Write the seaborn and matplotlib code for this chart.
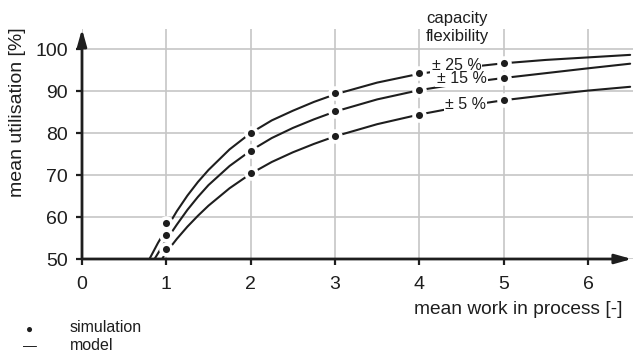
import matplotlib
matplotlib.use("Agg")
import matplotlib.pyplot as plt
import seaborn as sns
import pandas as pd
from matplotlib.patches import ArrowStyle

# ---- data ----
sim_x = [1, 2, 3, 4, 5]
sim_25 = [58.5, 80.0, 89.5, 94.2, 96.6]
sim_15 = [55.8, 75.8, 85.2, 90.2, 93.1]
sim_5 = [52.3, 70.5, 79.3, 84.4, 87.9]

model_x_25 = [0.80, 0.90, 1.0, 1.125, 1.25, 1.375, 1.5, 1.75, 2.0, 2.25, 2.5, 2.75,
              3.0, 3.5, 4.0, 4.5, 5.0, 5.5, 6.0, 6.5]
model_25 = [50.0, 53.8, 57.2, 61.4, 65.1, 68.35, 71.2, 76.1, 80.0, 83.0, 85.3, 87.4,
            89.2, 92.0, 94.1, 95.5, 96.6, 97.4, 98.0, 98.6]
model_x_15 = [0.86, 0.93, 1.0, 1.125, 1.25, 1.375, 1.5, 1.75, 2.0, 2.25, 2.5, 2.75,
              3.0, 3.5, 4.0, 4.5, 5.0, 5.5, 6.0, 6.5]
model_15 = [50.0, 52.3, 54.5, 58.2, 61.7, 64.8, 67.6, 72.15, 75.8, 78.8, 81.2, 83.25,
            85.1, 88.0, 90.2, 91.8, 93.1, 94.25, 95.4, 96.5]
model_x_5 = [0.95, 1.0, 1.125, 1.25, 1.375, 1.5, 1.75, 2.0, 2.25, 2.5, 2.75,
             3.0, 3.5, 4.0, 4.5, 5.0, 5.5, 6.0, 6.5]
model_5 = [50.0, 51.6, 54.8, 57.7, 60.3, 62.7, 66.85, 70.3, 73.1, 75.4, 77.4,
           79.2, 82.1, 84.4, 86.3, 87.8, 89.0, 90.1, 91.0]

flex_labels = ["± 25 %", "± 15 %", "± 5 %"]
x_ticks = [0, 1, 2, 3, 4, 5, 6]
y_ticks = [50, 60, 70, 80, 90, 100]

# ---- tables ----
model_df = pd.concat([
    pd.DataFrame({"x": model_x_25, "y": model_25, "flex": flex_labels[0]}),
    pd.DataFrame({"x": model_x_15, "y": model_15, "flex": flex_labels[1]}),
    pd.DataFrame({"x": model_x_5, "y": model_5, "flex": flex_labels[2]}),
])
sim_df = pd.concat([
    pd.DataFrame({"x": sim_x, "y": sim_25, "flex": flex_labels[0]}),
    pd.DataFrame({"x": sim_x, "y": sim_15, "flex": flex_labels[1]}),
    pd.DataFrame({"x": sim_x, "y": sim_5, "flex": flex_labels[2]}),
])

sns.set_theme(style="white")
plt.rcParams["font.family"] = ["Liberation Sans", "DejaVu Sans"]

ink = "#1e1e1e"
grid_c = "#c6c6c6"

fig = plt.figure(figsize=(6.33, 3.57), dpi=100)
ax = fig.add_axes([82 / 633, (357 - 259) / 357, (633 - 82) / 633, (259 - 29) / 357])

xmax = (633 - 82) / 84.33
ymax = 50 + (259 - 29) / 4.2
ax.set_xlim(0, xmax)
ax.set_ylim(50, ymax)

sns.lineplot(data=model_df, x="x", y="y", units="flex", estimator=None,
             color=ink, lw=1.5, ax=ax, zorder=3, legend=False, sort=False)
# white halo around the simulation points
sns.scatterplot(data=sim_df, x="x", y="y", color="white", s=110, linewidth=0,
                ax=ax, zorder=4, legend=False)
sns.scatterplot(data=sim_df, x="x", y="y", color=ink, s=26, linewidth=0,
                ax=ax, zorder=5, legend=False)

# grid
ax.set_xticks(x_ticks)
ax.set_yticks(y_ticks)
ax.grid(True, color=grid_c, lw=1.2)
ax.set_axisbelow(True)
for s in ax.spines.values():
    s.set_visible(False)
ax.tick_params(axis="both", labelsize=14, colors=ink, direction="out",
               length=4, width=1.6)
ax.tick_params(axis="y", pad=6, left=True)
ax.tick_params(axis="x", pad=8, bottom=True)
ax.set_xlabel("")
ax.set_ylabel("")

# axes arrows
arr = ArrowStyle("-|>", head_length=1.0, head_width=0.28)
ax.annotate("", xy=(6.52, 50), xytext=(0, 50), annotation_clip=False,
            arrowprops=dict(arrowstyle=arr, mutation_scale=10, lw=2, color=ink,
                            shrinkA=0, shrinkB=0), zorder=6)
ax.annotate("", xy=(0, ymax), xytext=(0, 50), annotation_clip=False,
            arrowprops=dict(arrowstyle=arr, mutation_scale=10, lw=2, color=ink,
                            shrinkA=0, shrinkB=0), zorder=6)

# flexibility labels
label_pos = [(4.44, 96.1), (4.50, 92.9), (4.55, 86.9)]
for lab, (lx, ly) in zip(flex_labels, label_pos):
    ax.text(lx, ly, lab, ha="center", va="center", fontsize=11.5, color=ink, zorder=7,
            bbox=dict(facecolor="white", edgecolor="none", pad=0.8))

fig.text(426 / 633, 1 - 28 / 357, "capacity\nflexibility", ha="left", va="center",
         fontsize=12, color=ink, linespacing=1.25)

# axis labels
fig.text(18 / 633, 1 - 112 / 357, "mean utilisation [%]", rotation=90,
         ha="center", va="center", fontsize=14, color=ink)
fig.text(623 / 633, 1 - 310 / 357, "mean work in process [-]", ha="right",
         va="center", fontsize=13.75, color=ink)

# legend (manual, bottom-left)
fig.text(30 / 633, 1 - 330 / 357, "●", ha="center", va="center", fontsize=8.5, color=ink)
fig.text(30 / 633, 1 - 346 / 357, "—", ha="center", va="center", fontsize=10, color=ink)
fig.text(70 / 633, 1 - 328 / 357, "simulation", ha="left", va="center", fontsize=11.5, color=ink)
fig.text(70 / 633, 1 - 346 / 357, "model", ha="left", va="center", fontsize=11.5, color=ink)

fig.savefig("out.png", dpi=100)
